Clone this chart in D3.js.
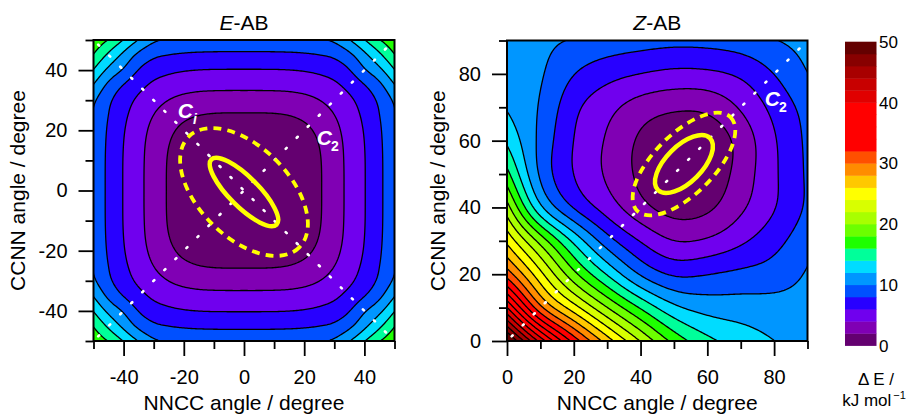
<!DOCTYPE html>
<html>
<head>
<meta charset="utf-8">
<script src="https://cdn.jsdelivr.net/npm/d3@7"></script>
<style>
  html,body{margin:0;padding:0;background:#fff;}
  svg{display:block;font-family:"Liberation Sans",Arial,Helvetica,sans-serif;}
</style>
</head>
<body>
<svg id="chart" width="906" height="417"></svg>
<script>
// ---------------- data ----------------
const levels = [0,2,4,6,8,10,12,14,16,18,20,22,24,26,28,30,32,34,36,38,40,42,44,46,48,50];
const bandColors = [
  "#640070","#8000b4","#7000ee","#2800ff","#0050ff","#0096ff","#00dcff","#00ff9a",
  "#1eff00","#6cff00","#a8ff00","#d8ff00","#ffff00","#ffc800","#ff8c00","#ff5000",
  "#ff0000","#ff0000","#ff0000","#ff0000","#e00000","#c80000","#a80000","#880000","#640000"
];
const colorbarTicks = [0,10,20,30,40,50];

// E-AB: energy (kJ/mol) read on one quadrant (x, y = 0..50 step 5), map is mirror symmetric
const eQuadAxis = [0,5,10,15,20,25,30,35,40,45,50];
const eQuadrant = [
  [0.00,0.02,0.15,0.40,0.90,1.80,3.10,4.50,5.90,7.60,9.40],
  [0.02,0.04,0.16,0.40,0.90,1.80,3.10,4.50,5.90,7.60,9.40],
  [0.15,0.16,0.24,0.47,0.96,1.84,3.13,4.52,5.91,7.61,9.41],
  [0.40,0.40,0.47,0.68,1.16,2.00,3.23,4.58,5.97,7.65,9.47],
  [0.90,0.90,0.96,1.16,1.58,2.38,3.49,4.75,6.11,7.75,9.62],
  [1.80,1.80,1.84,2.00,2.38,3.03,3.97,5.08,6.39,7.97,9.80],
  [3.10,3.10,3.13,3.23,3.49,3.97,4.69,5.62,6.87,8.35,10.30],
  [4.50,4.50,4.52,4.58,4.75,5.08,5.62,6.60,7.90,9.50,11.90],
  [5.90,5.90,5.91,5.97,6.11,6.39,6.87,7.90,9.80,11.50,13.90],
  [7.60,7.60,7.61,7.65,7.75,7.97,8.35,9.50,11.50,13.60,15.90],
  [9.40,9.40,9.41,9.47,9.62,9.80,10.30,11.90,13.90,15.90,17.50]
];

// Z-AB: energy grid, rows = CCNN angle 0..90, columns = NNCC angle 0..90 (step 10)
const zAxis = [0,10,20,30,40,50,60,70,80,90];
const zGrid = [
  [51.0,41.2,33.2,27.0,21.9,17.3,14.5,13.1,12.0,11.3],
  [40.0,30.0,24.8,20.0,15.8,12.4,11.2,11.0,10.8,10.7],
  [31.0,24.6,18.5,13.8, 9.6, 7.6, 8.0, 8.5, 8.9,10.2],
  [25.5,19.4,13.6, 8.8, 5.9, 3.9, 4.2, 5.6, 7.3, 9.3],
  [20.8,12.0, 7.6, 5.0, 2.5, 1.1, 1.5, 3.6, 5.8, 8.3],
  [16.6, 9.4, 5.9, 3.7, 1.5, 0.05,0.5, 2.8, 5.7, 8.3],
  [13.6, 9.5, 5.9, 3.8, 1.6, 0.3, 0.5, 2.6, 5.8, 8.4],
  [11.8, 9.9, 6.4, 4.6, 3.0, 2.3, 2.4, 4.2, 6.6, 8.7],
  [11.2,10.3, 8.0, 6.7, 6.0, 5.5, 5.6, 6.3, 8.0,10.0],
  [10.9,10.45,9.85,9.3, 8.9, 8.6, 8.7, 9.1, 9.9,10.7]
];

const eTicksMajor = [-40,-20,0,20,40];
const eTicksMinor = [-50,-30,-10,10,30,50];
const zTicksMajor = [0,20,40,60,80];
const zTicksMinor = [10,30,50,70,90];

// yellow ellipses: centre, semi-axes (degrees), orientation of major axis (degrees, data space)
const eEllipses = [
  {cx:0, cy:-0.5, a:15.3, b:4.9, angle:-45, dashed:false},
  {cx:0, cy:-0.5, a:26.0, b:15.0, angle:-45, dashed:true}
];
const zEllipses = [
  {cx:53, cy:53, a:11.0, b:5.4, angle:45, dashed:false},
  {cx:53, cy:53, a:19.8, b:9.0, angle:45, dashed:true}
];
// dotted reaction-coordinate diagonals
const eDiagonals = [[[-50,50],[50,-50]], [[-50,-50],[50,50]]];
const zDiagonals = [[[0,0],[90,90]]];
// path labels
const eLabels = [{x:-22, y:24.1, sub:"i"}, {x:24.2, y:15.0, sub:"2"}];
const zLabels = [{x:77.2, y:70.4, sub:"2"}];

// ---------------- helpers ----------------
const svg = d3.select("#chart");

function upsample(flat, nx, ny, f) {
  const w = (nx - 1) * f + 1, h = (ny - 1) * f + 1;
  const get = (arr, n, i) => i < 0 ? 2 * arr[0] - arr[1] : (i >= n ? 2 * arr[n - 1] - arr[n - 2] : arr[i]);
  const cr = (p0, p1, p2, p3, t) => 0.5 * (2 * p1 + (-p0 + p2) * t + (2 * p0 - 5 * p1 + 4 * p2 - p3) * t * t + (-p0 + 3 * p1 - 3 * p2 + p3) * t * t * t);
  const interp = (arr, n, u) => {
    let i = Math.floor(u); if (i >= n - 1) i = n - 2;
    const t = u - i;
    return cr(get(arr, n, i - 1), get(arr, n, i), get(arr, n, i + 1), get(arr, n, i + 2), t);
  };
  const tmp = [];
  for (let r = 0; r < ny; r++) {
    const row = flat.slice(r * nx, (r + 1) * nx);
    const out = [];
    for (let c = 0; c < w; c++) out.push(interp(row, nx, c / f));
    tmp.push(out);
  }
  const values = new Array(w * h);
  for (let c = 0; c < w; c++) {
    const col = tmp.map(row => row[c]);
    for (let r = 0; r < h; r++) values[r * w + c] = interp(col, ny, r / f);
  }
  return {values, w, h};
}

// separable box smoothing with odd-reflection padding (keeps linear trends at the borders)
function blur1d(arr, r) {
  const n = arr.length, res = new Array(n);
  const at = i => i < 0 ? 2 * arr[0] - arr[-i] : (i >= n ? 2 * arr[n - 1] - arr[2 * (n - 1) - i] : arr[i]);
  let s = 0;
  for (let i = -r; i <= r; i++) s += at(i);
  for (let i = 0; i < n; i++) { res[i] = s / (2 * r + 1); s += at(i + r + 1) - at(i - r); }
  return res;
}
function smooth(up, r, passes) {
  const {w, h} = up; const v = up.values.slice();
  for (let p = 0; p < passes; p++) {
    for (let row = 0; row < h; row++) {
      const b = blur1d(v.slice(row * w, (row + 1) * w), r);
      for (let c = 0; c < w; c++) v[row * w + c] = b[c];
    }
    for (let c = 0; c < w; c++) {
      const a = []; for (let row = 0; row < h; row++) a.push(v[row * w + c]);
      const b = blur1d(a, r);
      for (let row = 0; row < h; row++) v[row * w + c] = b[row];
    }
  }
  return {values: v, w, h};
}

function panel(o) {
  const {x, y, flat, nx, ny, x0, y0, step, factor, id, blurR} = o;
  let up = upsample(flat, nx, ny, factor);
  if (blurR) up = smooth(up, blurR, 3);
  const s = step / factor;
  const proj = d3.geoTransform({point(px, py) { this.stream.point(x(x0 + (px - 0.5) * s), y(y0 + (py - 0.5) * s)); }});
  const path = d3.geoPath(proj);
  const cs = d3.contours().size([up.w, up.h]).thresholds(levels.slice(1, -1))(up.values);
  const [xa, xb] = x.range(), [ya, yb] = y.range();
  svg.append("clipPath").attr("id", id).append("rect")
    .attr("x", xa).attr("y", yb).attr("width", xb - xa).attr("height", ya - yb);
  const g = svg.append("g").attr("clip-path", `url(#${id})`);
  g.append("rect").attr("x", xa).attr("y", yb).attr("width", xb - xa).attr("height", ya - yb).attr("fill", bandColors[0]);
  g.selectAll("path.band").data(cs).join("path").attr("class", "band")
    .attr("d", path).attr("fill", (d, i) => bandColors[i + 1]).attr("stroke", "none");
  g.selectAll("path.iso").data(cs).join("path").attr("class", "iso")
    .attr("d", path).attr("fill", "none").attr("stroke", "#000").attr("stroke-width", 1.3).attr("stroke-linejoin", "round");
  return g;
}

function decorate(g, x, y, ellipses, diagonals, labels) {
  const k = x(1) - x(0);
  diagonals.forEach(dg => {
    g.append("line")
      .attr("x1", x(dg[0][0])).attr("y1", y(dg[0][1]))
      .attr("x2", x(dg[1][0])).attr("y2", y(dg[1][1]))
      .attr("stroke", "#fff").attr("stroke-width", 2.6).attr("stroke-linecap", "round")
      .attr("stroke-dasharray", "1.4 14.2").attr("stroke-dashoffset", 9);
  });
  ellipses.forEach(e => {
    g.append("ellipse")
      .attr("cx", 0).attr("cy", 0).attr("rx", e.a * k).attr("ry", e.b * k)
      .attr("transform", `translate(${x(e.cx)},${y(e.cy)}) rotate(${-e.angle})`)
      .attr("fill", "none").attr("stroke", "#ffff00")
      .attr("stroke-width", e.dashed ? 3.8 : 4.5)
      .attr("stroke-dasharray", e.dashed ? "8 6" : null);
  });
  labels.forEach(l => {
    const t = g.append("text").attr("x", x(l.x)).attr("y", y(l.y))
      .attr("fill", "#fff").attr("font-weight", "bold").attr("font-size", 21);
    t.append("tspan").attr("font-style", "italic").text("C");
    t.append("tspan").attr("font-size", 14).attr("dy", 6).attr("dx", l.sub === "i" ? 0 : -1)
      .attr("font-style", l.sub === "i" ? "italic" : "normal").text(l.sub);
  });
}

function axes(x, y, xMaj, xMin, yMaj, yMin) {
  const [xa, xb] = x.range(), [ya, yb] = y.range();
  const fmt = d => String(d);
  const style = sel => {
    sel.select(".domain").remove();
    sel.selectAll(".tick line").attr("stroke", "#000").attr("stroke-width", 1.8);
    sel.selectAll(".tick text").attr("font-size", 20).attr("fill", "#000")
      .attr("font-family", "'Liberation Sans',Arial,sans-serif");
  };
  svg.append("g").attr("transform", `translate(0,${ya})`)
    .call(d3.axisBottom(x).tickValues(xMin).tickSize(8).tickFormat("")).call(style);
  svg.append("g").attr("transform", `translate(0,${ya})`)
    .call(d3.axisBottom(x).tickValues(xMaj).tickSize(15).tickPadding(14).tickFormat(fmt)).call(style);
  svg.append("g").attr("transform", `translate(${xa},0)`)
    .call(d3.axisLeft(y).tickValues(yMin).tickSize(8).tickFormat("")).call(style);
  svg.append("g").attr("transform", `translate(${xa},0)`)
    .call(d3.axisLeft(y).tickValues(yMaj).tickSize(15).tickPadding(11).tickFormat(fmt)).call(style);
  svg.append("rect").attr("x", xa).attr("y", yb).attr("width", xb - xa).attr("height", ya - yb)
    .attr("fill", "none").attr("stroke", "#000").attr("stroke-width", 2);
}

function titles(x, y, titleTxt, italicLetter, ylabX) {
  const [xa, xb] = x.range(), [ya, yb] = y.range();
  const cx = (xa + xb) / 2, cy = (ya + yb) / 2;
  const t = svg.append("text").attr("x", cx).attr("y", 29.5).attr("text-anchor", "middle").attr("font-size", 21);
  t.append("tspan").attr("font-style", "italic").text(italicLetter);
  t.append("tspan").text(titleTxt);
  svg.append("text").attr("x", cx).attr("y", 410).attr("text-anchor", "middle").attr("font-size", 21)
    .text("NNCC angle / degree");
  svg.append("text").attr("transform", `translate(${ylabX},${cy}) rotate(-90)`)
    .attr("text-anchor", "middle").attr("font-size", 21).text("CCNN angle / degree");
}

// ---------------- left panel: E-AB ----------------
const xE = d3.scaleLinear().domain([-50, 50]).range([93.5, 394.5]);
const yE = d3.scaleLinear().domain([-50, 50]).range([341, 40]);
const nQ = eQuadAxis.length - 1;
const eFlat = [];
for (let r = -nQ; r <= nQ; r++) for (let c = -nQ; c <= nQ; c++) eFlat.push(eQuadrant[Math.abs(r)][Math.abs(c)]);
const gE = panel({x: xE, y: yE, flat: eFlat, nx: 2 * nQ + 1, ny: 2 * nQ + 1, x0: -50, y0: -50, step: 5, factor: 10, id: "clipE", blurR: 2});
decorate(gE, xE, yE, eEllipses, eDiagonals, eLabels);
axes(xE, yE, eTicksMajor, eTicksMinor, eTicksMajor, eTicksMinor);
titles(xE, yE, "-AB", "E", 25);

// ---------------- right panel: Z-AB ----------------
const xZ = d3.scaleLinear().domain([0, 90]).range([507, 807.5]);
const yZ = d3.scaleLinear().domain([0, 90]).range([341, 40.5]);
const gZ = panel({x: xZ, y: yZ, flat: zGrid.flat(), nx: zAxis.length, ny: zAxis.length, x0: 0, y0: 0, step: 10, factor: 20, id: "clipZ", blurR: 5});
decorate(gZ, xZ, yZ, zEllipses, zDiagonals, zLabels);
axes(xZ, yZ, zTicksMajor, zTicksMinor, zTicksMajor, zTicksMinor);
titles(xZ, yZ, "-AB", "Z", 445);

// ---------------- colour bar ----------------
const cb = d3.scaleLinear().domain([0, 50]).range([345.5, 41.7]);
const cbg = svg.append("g");
cbg.selectAll("rect").data(d3.range(levels.length - 1)).join("rect")
  .attr("x", 845).attr("width", 31.5)
  .attr("y", i => cb(levels[i + 1])).attr("height", i => cb(levels[i]) - cb(levels[i + 1]) + 0.4)
  .attr("fill", i => bandColors[i]);
cbg.selectAll("text").data(colorbarTicks).join("text")
  .attr("x", 879).attr("y", d => cb(d)).attr("dy", "0.36em").attr("font-size", 17).text(d => d);
svg.append("text").attr("x", 876).attr("y", 385).attr("text-anchor", "middle").attr("font-size", 17).text("\u0394 E /");
const un = svg.append("text").attr("x", 874).attr("y", 406).attr("text-anchor", "middle").attr("font-size", 17);
un.append("tspan").text("kJ mol");
un.append("tspan").attr("font-size", 11).attr("dy", -7).attr("dx", 2).text("\u22121");
</script>
</body>
</html>
